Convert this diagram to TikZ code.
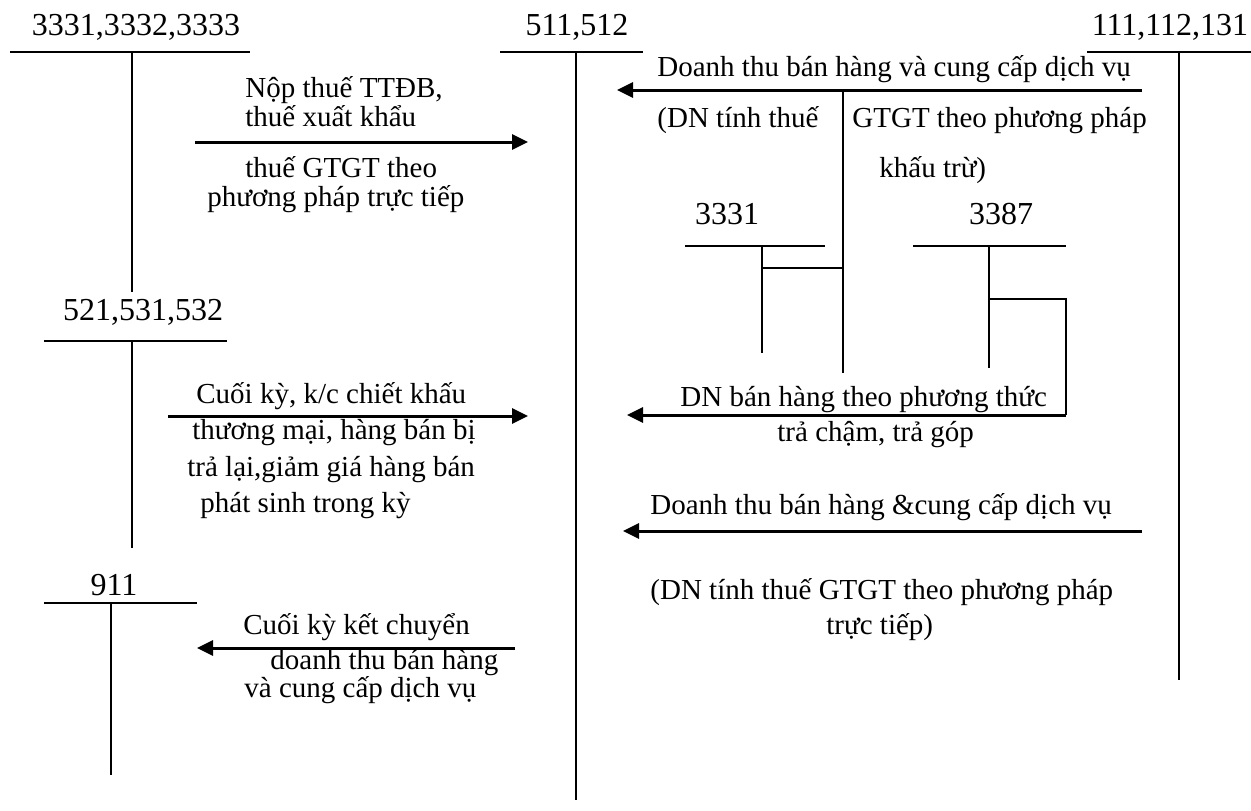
\documentclass[tikz,border=0pt]{standalone}
\usepackage{fontspec}
\setmainfont{Liberation Serif}
\usetikzlibrary{arrows.meta}
\begin{document}
\begin{tikzpicture}[x=0.5pt,y=-0.5pt,
  base/.style={inner sep=0pt, text height=0.7em, text depth=0.22em},
  lbl/.style={base, font=\fontsize{16pt}{18pt}\selectfont},
  txt/.style={base, anchor=west, yshift=-2pt, font=\fontsize{14.5pt}{17pt}\selectfont},
  acc/.style={line width=1pt},
  flow/.style={line width=1.5pt, -{Triangle[length=8pt,width=7.5pt]}},
]
\useasboundingbox (0,0) rectangle (1251,810);

% ---- account labels ----
\node[lbl] (l3331x) at (136,31) {3331,3332,3333};
\node[lbl] (l511) at (577,31) {511,512};
\node[lbl] (l111) at (1170,31) {111,112,131};
\node[lbl] (l3331) at (727,220) {3331};
\node[lbl] (l3387) at (1001,220) {3387};
\node[lbl] (l521) at (143,316) {521,531,532};
\node[lbl] (l911) at (114,591) {911};

% ---- T-account coordinates ----
\coordinate (a1L) at (10,52);  \coordinate (a1R) at (250,52);
\coordinate (a1T) at (132,52); \coordinate (a1B) at (132,292);
\coordinate (a2L) at (500,52); \coordinate (a2R) at (643,52);
\coordinate (a2T) at (576,52); \coordinate (a2B) at (576,800);
\coordinate (a3L) at (1087,52); \coordinate (a3R) at (1251,52);
\coordinate (a3T) at (1179,52); \coordinate (a3B) at (1179,680);
\coordinate (a4L) at (685,246); \coordinate (a4R) at (825,246);
\coordinate (a4T) at (762,246); \coordinate (a4B) at (762,353);
\coordinate (a5L) at (913,246); \coordinate (a5R) at (1066,246);
\coordinate (a5T) at (989,246); \coordinate (a5B) at (989,368);
\coordinate (a6L) at (44,341);  \coordinate (a6R) at (227,341);
\coordinate (a6T) at (132,341); \coordinate (a6B) at (132,548);
\coordinate (a7L) at (44,603);  \coordinate (a7R) at (197,603);
\coordinate (a7T) at (111,603); \coordinate (a7B) at (111,775);

\foreach \k in {1,...,7}{
  \draw[acc] (a\k L) -- (a\k R);
  \draw[acc] (a\k T) -- (a\k B);
}

% ---- flows ----
\coordinate (f1s) at (195,142); \coordinate (f1e) at (528,142);
\draw[flow] (f1s) -- (f1e);

\coordinate (f2s) at (1142,90); \coordinate (f2e) at (617,90);
\draw[flow] (f2s) -- (f2e);
\coordinate (f2j) at (843,90); \coordinate (f2b) at (843,373);
\draw[acc] (f2j) -- (f2b);
\coordinate (f2k) at (762,268); \coordinate (f2m) at (843,268);
\draw[acc] (f2k) -- (f2m);

\coordinate (f3a) at (989,299); \coordinate (f3b) at (1066,299);
\coordinate (f3c) at (1066,415); \coordinate (f3e) at (627,415);
\draw[acc] (f3a) -- (f3b) -- (f3c);
\draw[flow] (f3c) -- (f3e);

\coordinate (f4s) at (168,416); \coordinate (f4e) at (528,416);
\draw[flow] (f4s) -- (f4e);

\coordinate (f5s) at (515,648); \coordinate (f5e) at (197,648);
\draw[flow] (f5s) -- (f5e);

\coordinate (f6s) at (1142,531); \coordinate (f6e) at (623,531);
\draw[flow] (f6s) -- (f6e);

% ---- texts ----
\node[txt] (t1a) at (245,89) {Nộp thuế TTĐB,};
\node[txt] (t1b) at (245,118) {thuế xuất khẩu};
\node[txt] (t1c) at (245,169) {thuế GTGT theo};
\node[txt] (t1d) at (207,198) {phương pháp trực tiếp};

\node[txt] (t2a) at (657,68) {Doanh thu bán hàng và cung cấp dịch vụ};
\node[txt] (t2b) at (657,119) {(DN tính thuế};
\node[txt] (t2c) at (852,119) {GTGT theo phương pháp};
\node[txt] (t2d) at (879,169) {khấu trừ)};

\node[txt] (t3a) at (680,398) {DN bán hàng theo phương thức};
\node[txt] (t3b) at (777,433) {trả chậm, trả góp};

\node[txt] (t4a) at (196,395) {Cuối kỳ, k/c chiết khấu};
\node[txt] (t4b) at (192,431) {thương mại, hàng bán bị};
\node[txt] (t4c) at (187,468) {trả lại,giảm giá hàng bán};
\node[txt] (t4d) at (200,504) {phát sinh trong kỳ};

\node[txt] (t6a) at (650,506) {Doanh thu bán hàng \&cung cấp dịch vụ};
\node[txt] (t6b) at (650,591) {(DN tính thuế GTGT theo phương pháp};
\node[txt] (t6c) at (826,626) {trực tiếp)};

\node[txt] (t5a) at (243,626) {Cuối kỳ kết chuyển};
\node[txt] (t5b) at (270,661) {doanh thu bán hàng};
\node[txt] (t5c) at (244,689) {và cung cấp dịch vụ};
\end{tikzpicture}
\end{document}
